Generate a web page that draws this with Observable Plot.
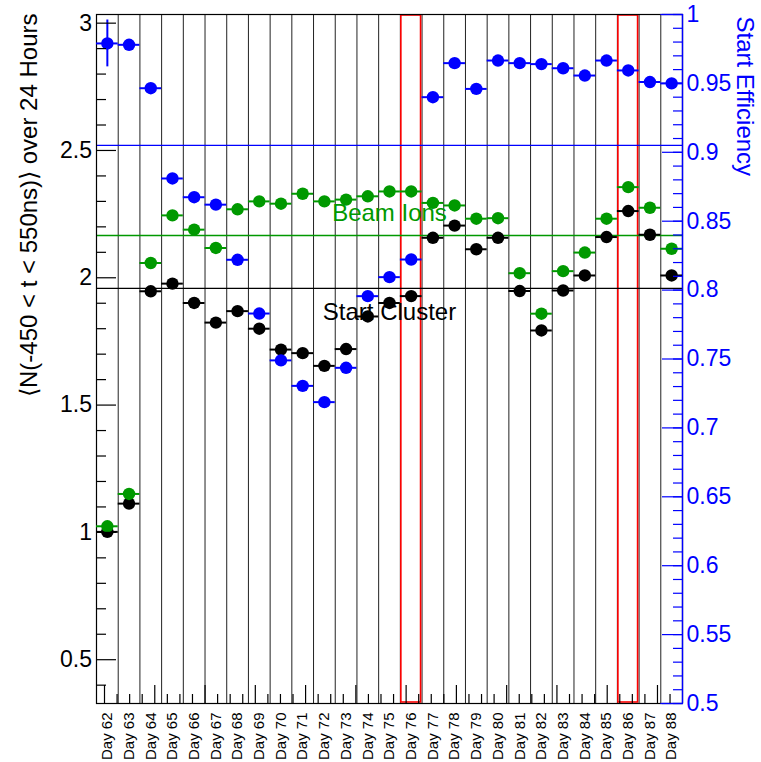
<!DOCTYPE html>
<html>
<head>
<meta charset="utf-8">
<script src="https://cdn.jsdelivr.net/npm/d3@7"></script>
<script src="https://cdn.jsdelivr.net/npm/@observablehq/plot@0.6"></script>
<style>
  html, body { margin: 0; padding: 0; background: #fff; }
</style>
</head>
<body>
<div id="chart"></div>
<script>
// ---- data ----
const days = [62,63,64,65,66,67,68,69,70,71,72,73,74,75,76,77,78,79,80,81,82,83,84,85,86,87,88];
const startCluster = [1.002,1.113,1.947,1.977,1.901,1.824,1.869,1.800,1.718,1.704,1.654,1.720,1.848,1.901,1.928,2.157,2.205,2.112,2.157,1.948,1.793,1.950,2.009,2.160,2.262,2.169,2.009];
const beamIons = [1.024,1.151,2.058,2.245,2.189,2.117,2.269,2.300,2.291,2.330,2.300,2.307,2.320,2.339,2.339,2.294,2.284,2.232,2.234,2.018,1.859,2.026,2.099,2.232,2.356,2.275,2.114];
const startEff = [0.979,0.978,0.9465,0.881,0.8674,0.862,0.822,0.783,0.749,0.7305,0.7187,0.7436,0.7956,0.8094,0.8222,0.940,0.9647,0.946,0.9666,0.9647,0.964,0.961,0.9557,0.9666,0.9594,0.951,0.950];
const startEffErr = [0.017,0.003,0.003,0.003,0.003,0.003,0.003,0.003,0.003,0.003,0.003,0.003,0.003,0.003,0.003,0.003,0.003,0.003,0.003,0.003,0.003,0.003,0.003,0.003,0.003,0.003,0.003];
const highlightDays = [76, 86];
const meanStartCluster = 1.958;
const meanBeamIons = 2.166;
const meanStartEff = 0.905;
const leftMajorTicks = [0.5, 1, 1.5, 2, 2.5, 3];
const leftMinorTicks = [0.4,0.6,0.7,0.8,0.9,1.1,1.2,1.3,1.4,1.6,1.7,1.8,1.9,2.1,2.2,2.3,2.4,2.6,2.7,2.8,2.9];
const rightMajorTicks = [0.5,0.55,0.6,0.65,0.7,0.75,0.8,0.85,0.9,0.95,1];
const rightMinorTicks = d3.range(50, 101).map(i => i / 100);
const annotations = [
  {label: "Beam Ions", day: 75, value: 2.252, color: "#009900"},
  {label: "Start Cluster", day: 75, value: 1.864, color: "#000000"}
];
const yTitle = "\u27E8N(-450 < t < 550ns)\u27E9 over 24 Hours";
const y2Title = "Start Efficiency";

// ---- scales ----
const Y0 = 0.328, Y1 = 3.034;      // left axis range
const R0 = 0.5, R1 = 1.0;          // right axis range
const toLeft = r => Y0 + (r - R0) * (Y1 - Y0) / (R1 - R0);
const toRight = v => R0 + (v - Y0) * (R1 - R0) / (Y1 - Y0);

const BLUE = "#0000ff", GREEN = "#009900", BLACK = "#000000";

const black = days.map((d, i) => ({day: d, v: startCluster[i]}));
const green = days.map((d, i) => ({day: d, v: beamIons[i]}));
const blue = days.map((d, i) => ({day: d, v: toLeft(startEff[i]), lo: toLeft(startEff[i] - startEffErr[i]), hi: toLeft(startEff[i] + startEffErr[i])}));
const gridEdges = days.slice(0, -1).map(d => d + 0.5);

// ROOT-style bottom axis divisions (not aligned to bins)
const tickStart = 61.8688, tickStep = 0.57905;
const bottomAll = d3.range(0, 46).map(i => ({i, v: tickStart + i * tickStep}));
const bottomMajor = bottomAll.filter(t => t.i % 4 === 0).map(t => t.v);
const bottomMinor = bottomAll.filter(t => t.i % 4 !== 0).map(t => t.v);

const font = "'Liberation Sans', Arial, Helvetica, sans-serif";

const chart = Plot.plot({
  width: 761,
  height: 762,
  marginTop: 14,
  marginBottom: 59,
  marginLeft: 96,
  marginRight: 79,
  style: {fontFamily: font, background: "#fff", overflow: "visible"},
  x: {domain: [61.5, 88.5]},
  y: {domain: [Y0, Y1]},
  marks: [
    // vertical grid at bin edges
    Plot.ruleX(gridEdges, {stroke: "#222", strokeWidth: 1}),
    // highlighted days
    Plot.rect(highlightDays, {x1: d => d - 0.5, x2: d => d + 0.5, y1: Y0, y2: Y1, inset: 1, fill: "none", stroke: "#ff0000", strokeWidth: 1.6}),
    // mean lines
    Plot.ruleY([meanStartEff], {y: d => toLeft(d), stroke: BLUE, strokeWidth: 1.3}),
    Plot.ruleY([meanBeamIons], {stroke: GREEN, strokeWidth: 1.3}),
    Plot.ruleY([meanStartCluster], {stroke: BLACK, strokeWidth: 1.3}),
    // frame
    Plot.frame({stroke: BLACK, strokeWidth: 1.2}),
    Plot.ruleY([Y0, Y1], {x1: 87.5, x2: 88.5, stroke: BLUE, strokeWidth: 1.2}),
    Plot.ruleX([88.5], {stroke: BLUE, strokeWidth: 1.4}),
    // start cluster (black)
    Plot.ruleY(black, {y: "v", x1: d => d.day - 0.5, x2: d => d.day + 0.5, stroke: BLACK, strokeWidth: 2}),
    Plot.dot(black, {x: "day", y: "v", r: 6.2, fill: BLACK}),
    // beam ions (green)
    Plot.ruleY(green, {y: "v", x1: d => d.day - 0.5, x2: d => d.day + 0.5, stroke: GREEN, strokeWidth: 2}),
    Plot.dot(green, {x: "day", y: "v", r: 6.2, fill: GREEN}),
    // start efficiency (blue, right axis)
    Plot.ruleY(blue, {y: "v", x1: d => d.day - 0.5, x2: d => d.day + 0.5, stroke: BLUE, strokeWidth: 2}),
    Plot.ruleX(blue, {x: "day", y1: "lo", y2: "hi", stroke: BLUE, strokeWidth: 2}),
    Plot.dot(blue, {x: "day", y: "v", r: 6.2, fill: BLUE}),
    // annotations
    Plot.text(annotations, {x: "day", y: "value", text: "label", fill: "color", fontSize: 24, textAnchor: "middle", lineAnchor: "middle"}),
    // left axis
    Plot.axisY({ticks: leftMajorTicks, anchor: "left", tickSize: 20, dx: 20, tickPadding: 4.5, fontSize: 23, tickFormat: d => String(d), stroke: BLACK, fill: BLACK, strokeWidth: 1.2, label: null}),
    Plot.axisY({ticks: leftMinorTicks, anchor: "left", tickSize: 10, dx: 10, fill: "none", stroke: BLACK, strokeWidth: 1.2, label: null}),
    // right axis
    Plot.axisY({ticks: rightMajorTicks.map(toLeft), anchor: "right", tickSize: 21, dx: -21, tickPadding: 4, fontSize: 23, tickFormat: v => String(+toRight(v).toFixed(2)), stroke: BLUE, fill: BLUE, strokeWidth: 1.2, label: null}),
    Plot.axisY({ticks: rightMinorTicks.map(toLeft), anchor: "right", tickSize: 10, dx: -10, fill: "none", stroke: BLUE, strokeWidth: 1.2, label: null}),
    // bottom axis
    Plot.axisX({ticks: bottomMajor, anchor: "bottom", tickSize: 18, dy: -18, fill: "none", stroke: BLACK, strokeWidth: 1.2, label: null}),
    Plot.axisX({ticks: bottomMinor, anchor: "bottom", tickSize: 9, dy: -9, fill: "none", stroke: BLACK, strokeWidth: 1.2, label: null}),
    Plot.axisX({ticks: days, anchor: "bottom", tickSize: 0, tickPadding: 9, tickRotate: -90, fontSize: 15, tickFormat: d => "Day " + d, fill: BLACK, label: null}),
    // titles
    Plot.text([yTitle], {frameAnchor: "top-left", dx: -67.5, dy: -1, rotate: -90, textAnchor: "end", lineAnchor: "middle", fontSize: 24, fill: BLACK}),
    Plot.text([y2Title], {frameAnchor: "top-right", dx: 62.5, dy: 2, rotate: 90, textAnchor: "start", lineAnchor: "middle", fontSize: 24, fill: BLUE})
  ]
});
document.getElementById("chart").appendChild(chart);
</script>
</body>
</html>
